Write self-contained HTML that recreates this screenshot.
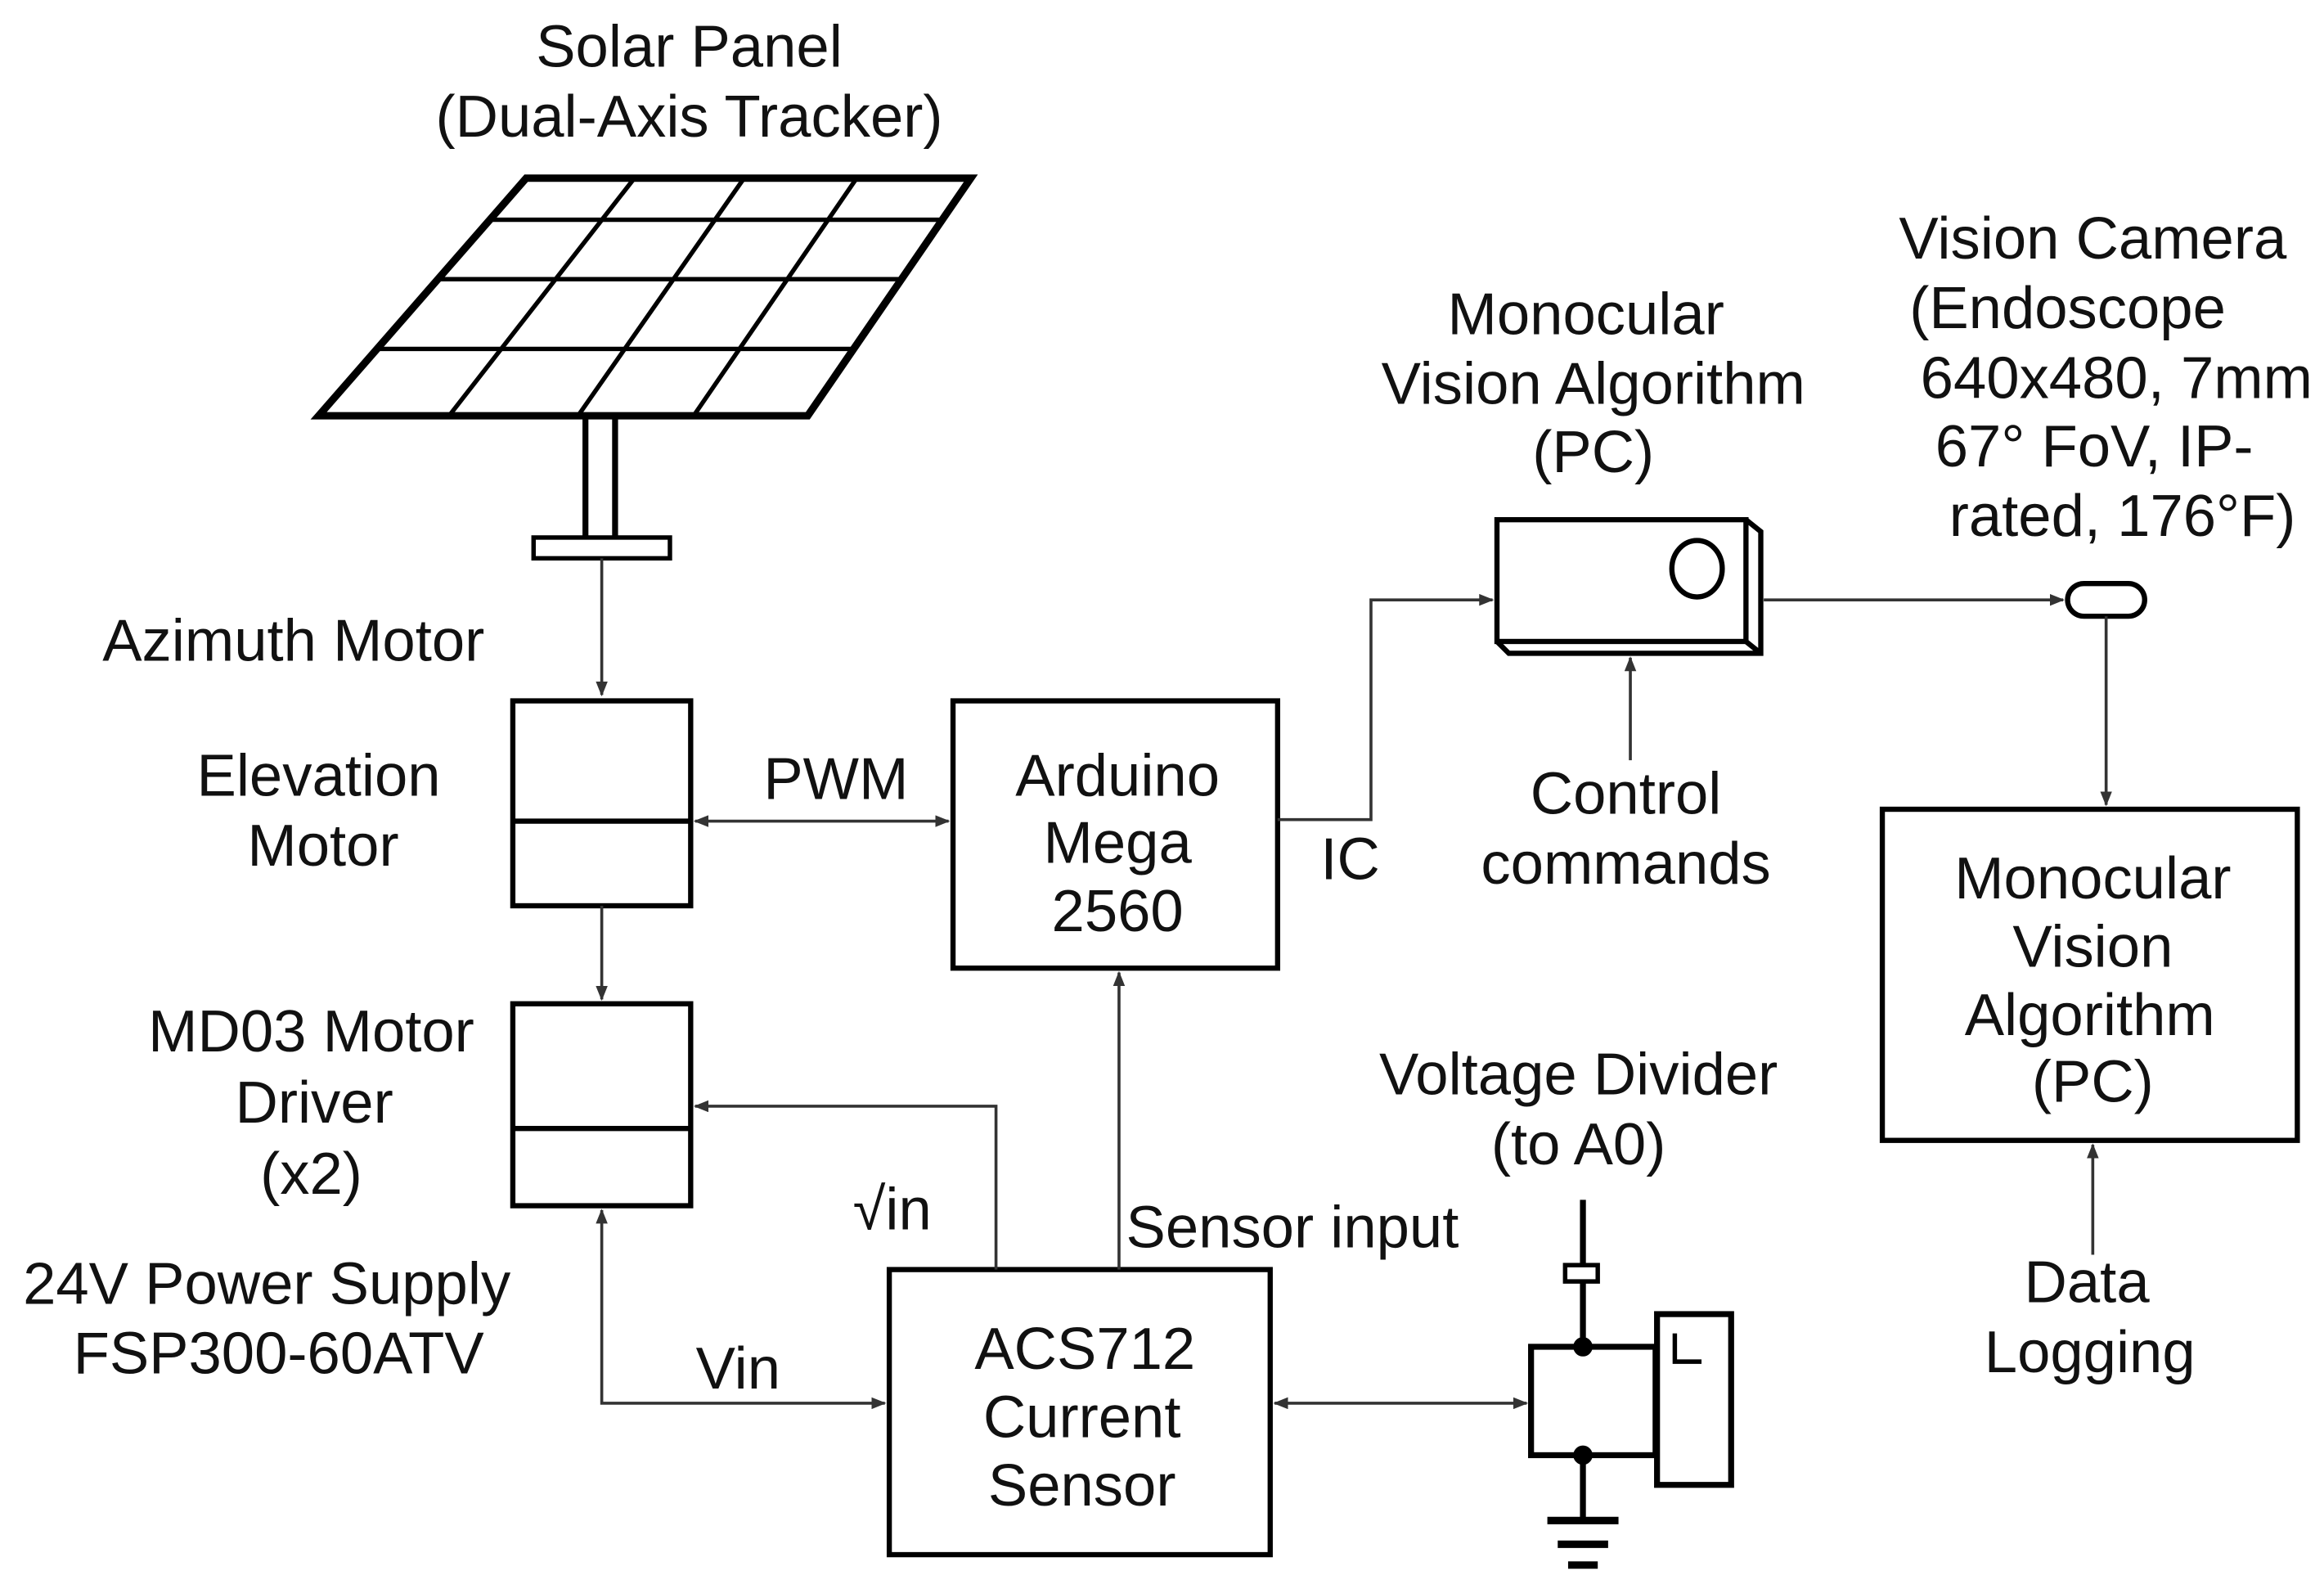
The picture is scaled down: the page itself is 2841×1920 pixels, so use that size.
<!DOCTYPE html>
<html><head><meta charset="utf-8"><style>html,body{margin:0;padding:0;background:#fff}svg{display:block}</style></head>
<body>
<svg width="2841" height="1920" viewBox="0 0 1568 1058" preserveAspectRatio="none" xmlns="http://www.w3.org/2000/svg" font-family="Liberation Sans, sans-serif" fill="#111">
<defs><marker id="a" markerWidth="10" markerHeight="8" refX="9" refY="4" orient="auto-start-reverse" markerUnits="userSpaceOnUse"><path d="M0,0 L10,4 L0,8 z" fill="#333"/></marker></defs>
<g font-size="40" text-anchor="middle">
<text x="465" y="45">Solar Panel</text>
<text x="465" y="92">(Dual-Axis Tracker)</text>
<text x="198" y="445">Azimuth Motor</text>
<text x="215" y="536">Elevation</text>
<text x="218" y="583">Motor</text>
<text x="210" y="708">MD03 Motor</text>
<text x="212" y="756">Driver</text>
<text x="210" y="804">(x2)</text>
<text x="180" y="878">24V Power Supply</text>
<text x="188" y="925">FSP300-60ATV</text>
<text x="564" y="538">PWM</text>
<text x="754" y="536">Arduino</text>
<text x="754" y="581">Mega</text>
<text x="754" y="627">2560</text>
<text x="911" y="592">IC</text>
<text x="1070" y="225">Monocular</text>
<text x="1075" y="272">Vision Algorithm</text>
<text x="1075" y="318">(PC)</text>
<text x="1097" y="548">Control</text>
<text x="1097" y="595">commands</text>
<text x="1412" y="174">Vision Camera</text>
<text x="1395" y="221">(Endoscope</text>
<text x="1428" y="268">640x480, 7mm</text>
<text x="1413" y="314">67° FoV, IP-</text>
<text x="1432" y="361">rated, 176°F)</text>
<text x="1412" y="605">Monocular</text>
<text x="1412" y="651">Vision</text>
<text x="1410" y="697">Algorithm</text>
<text x="1412" y="742">(PC)</text>
<text x="1408" y="877">Data</text>
<text x="1410" y="924">Logging</text>
<text x="1065" y="737">Voltage Divider</text>
<text x="1065" y="784">(to A0)</text>
<text x="602" y="828">√in</text>
<text x="872" y="840">Sensor input</text>
<text x="498" y="935">Vin</text>
<text x="732" y="922">ACS712</text>
<text x="730" y="968">Current</text>
<text x="730" y="1014">Sensor</text>
</g>
<g fill="none" stroke="#000">
<path d="M355,120 L655,120 L545,280 L215,280 Z" stroke-width="5"/>
<g stroke-width="3">
<path d="M428,120 L303,280 M502,120 L390,280 M578,120 L468,280"/>
<path d="M330,148 L636,148 M295,188 L608,188 M254,235 L576,235"/>
</g>
<path d="M395,280 V362 M415,280 V362" stroke-width="4"/>
<rect x="360" y="362" width="92" height="14" stroke-width="3"/>
<g stroke-width="3.5">
<rect x="346" y="472" width="120" height="138"/><path d="M346,553 H466"/>
<rect x="346" y="676" width="120" height="136"/><path d="M346,760 H466"/>
<rect x="643" y="472" width="219" height="180"/>
<rect x="600" y="855" width="257" height="192"/>
<rect x="1270" y="545" width="280" height="223"/>
<rect x="1010" y="350" width="168" height="82"/>
<path d="M1178,350 L1188,358 V440 H1018 L1010,432 M1178,432 L1188,440"/>
<ellipse cx="1145" cy="383" rx="17" ry="19"/>
<rect x="1395" y="393" width="52" height="22" rx="11"/>
</g>
<g stroke="#333" stroke-width="2">
<path d="M406,376 V468" marker-end="url(#a)"/>
<path d="M406,610 V673" marker-end="url(#a)"/>
<path d="M469,553 H640" marker-start="url(#a)" marker-end="url(#a)"/>
<path d="M862,552 H925 V404 H1007" marker-end="url(#a)"/>
<path d="M1190,404 H1392" marker-end="url(#a)"/>
<path d="M1421,415 V542" marker-end="url(#a)"/>
<path d="M1100,512 V443" marker-end="url(#a)"/>
<path d="M1412,845 V771" marker-end="url(#a)"/>
<path d="M755,855 V655" marker-end="url(#a)"/>
<path d="M672,855 V745 H469" marker-end="url(#a)"/>
<path d="M406,815 V945 H597" marker-start="url(#a)" marker-end="url(#a)"/>
<path d="M860,945 H1030" marker-start="url(#a)" marker-end="url(#a)"/>
</g>
<g stroke-width="4">
<path d="M1068,808 V852 M1068,863 V907 M1068,980 V1022"/>
<rect x="1056" y="852" width="22" height="11" stroke-width="3"/>
<rect x="1033" y="907" width="84" height="73"/>
<rect x="1118" y="885" width="50" height="115"/>
<path d="M1044,1024 H1092 M1051,1040 H1085 M1058,1054 H1078" stroke-width="5"/>
<path d="M1130,898 V917 H1148" stroke-width="3"/>
</g>
<circle cx="1068" cy="907" r="6" fill="#000"/>
<circle cx="1068" cy="980" r="6" fill="#000"/>
</g>
</svg>
</body></html>
